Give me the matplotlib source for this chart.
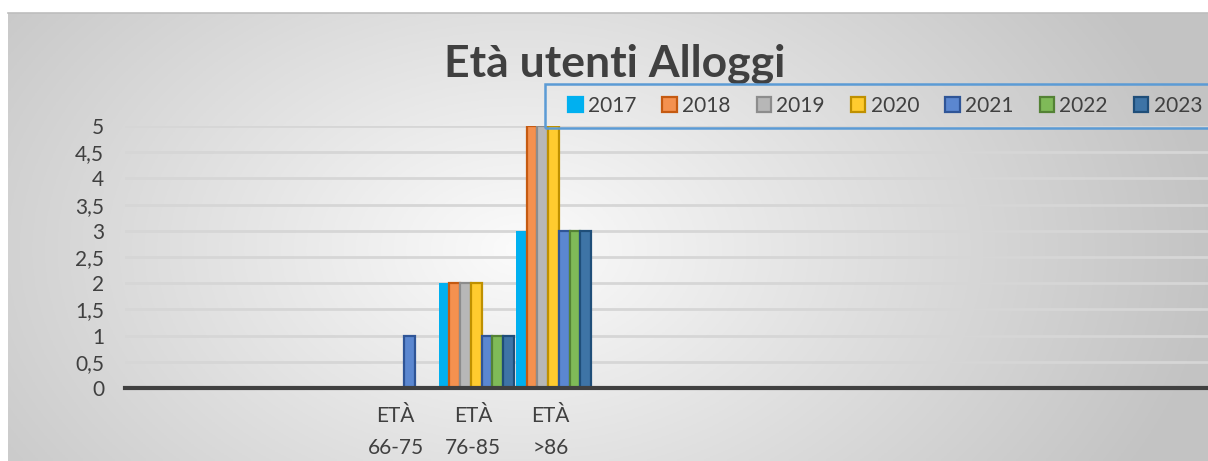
import numpy as np
import matplotlib
matplotlib.use("Agg")
import matplotlib.pyplot as plt
from matplotlib.patches import Rectangle
from matplotlib.ticker import FuncFormatter, MultipleLocator

plt.rcParams['font.family'] = ['Lato', 'DejaVu Sans']

nan = np.nan
categories = ['', '', '', 'ETÀ\n66-75', 'ETÀ\n76-85', 'ETÀ\n>86',
              '', '', '', '', '', '', '', '']
series_names = ['2017', '2018', '2019', '2020', '2021', '2022', '2023']
active = [3, 4, 5]
v2017 = [nan, 2, 3]
v2018 = [nan, 2, 5]
v2019 = [nan, 2, 5]
v2020 = [nan, 2, 5]
v2021 = [1, 1, 3]
v2022 = [0, 1, 3]
v2023 = [0, 1, 3]
series_values = [v2017, v2018, v2019, v2020, v2021, v2022, v2023]

fills = ['#00b0f0', '#f4914f', '#b7b7b7', '#ffcb2f', '#5b87d0', '#7fba58', '#3e74a6']
edges = ['#00b0f0', '#c55a11', '#8c8c8c', '#bf9000', '#2f5597', '#548235', '#1f4e79']

W, H = 1208, 461
fig = plt.figure(figsize=(W / 100, H / 100), dpi=100)
fig.patch.set_facecolor('white')

# background gradient (chart area)
bg = fig.add_axes([8 / W, 0, 1 - 8 / W, 1 - 13 / H], zorder=-5)
xs = np.linspace(8, W, 400)
ys = np.linspace(13, H, 160)
X, Y = np.meshgrid(xs, ys)
r = np.sqrt(((X - 520) / 700) ** 2 + ((Y - 250) / 470) ** 2)
v = 0.985 - 0.22 * np.clip(r, 0, 1)
img = np.dstack([v, v, v])
bg.imshow(img, aspect='auto', extent=[0, 1, 0, 1], origin='upper')
bg.set_axis_off()
fig.add_artist(plt.Line2D([8 / W, 1], [1 - 13.5 / H, 1 - 13.5 / H], color='#bdbdbd', lw=1.2))

ax = fig.add_axes([125 / W, 1 - 388 / H, (W - 125) / W, (388 - 126) / H])
ax.patch.set_alpha(0)
n = len(series_names)
group = 0.97
bw = group / n
for i, (name, vals) in enumerate(zip(series_names, series_values)):
    xpos = np.array(active) - group / 2 + bw * (i + 0.5) + 0.04
    ax.bar(xpos, vals, width=bw, color=fills[i], edgecolor=edges[i],
           linewidth=1.6 if i > 0 else 0, label=name, zorder=3)

ax.set_xlim(-0.5, len(categories) - 0.5)
ax.set_ylim(0, 5)
ax.yaxis.set_major_locator(MultipleLocator(0.5))
ax.yaxis.set_major_formatter(FuncFormatter(lambda y, p: ('%g' % y).replace('.', ',')))
ax.grid(axis='y', color='#d6d6d6', lw=2, zorder=0)
ax.set_xticks(range(len(categories)))
ax.set_xticklabels(categories, fontsize=15, color='#404040', linespacing=1.75)
ax.tick_params(axis='x', length=0, pad=13)
ax.tick_params(axis='y', length=0, pad=15, labelsize=15, labelcolor='#404040')
for s in ['top', 'right', 'left']:
    ax.spines[s].set_visible(False)
ax.spines['bottom'].set_color('#404040')
ax.spines['bottom'].set_linewidth(3)
ax.spines['bottom'].set_zorder(4)

fig.text(615 / W, 1 - 77 / H, 'Età utenti Alloggi', ha='center', va='baseline',
         fontsize=32, fontweight='bold', color='#404040')

# legend frame
fig.add_artist(Rectangle((545 / W, 1 - 128 / H), (W + 10 - 545) / W, 44 / H,
                         transform=fig.transFigure, facecolor='none',
                         edgecolor='#5b9bd5', lw=1.8, zorder=5))
handles = [Rectangle((0, 0), 1, 1, facecolor=fills[i], edgecolor=edges[i], lw=1.6)
           for i in range(n)]
leg = fig.legend(handles, series_names, loc='center left',
                 bbox_to_anchor=(568 / W, 1 - 106 / H), ncol=n, fontsize=15,
                 handlelength=0.7, handleheight=0.7, handletextpad=0.25,
                 columnspacing=1.25, borderpad=0, frameon=False,
                 borderaxespad=0)
for t in leg.get_texts():
    t.set_color('#404040')

fig.savefig('out.png', dpi=100)
